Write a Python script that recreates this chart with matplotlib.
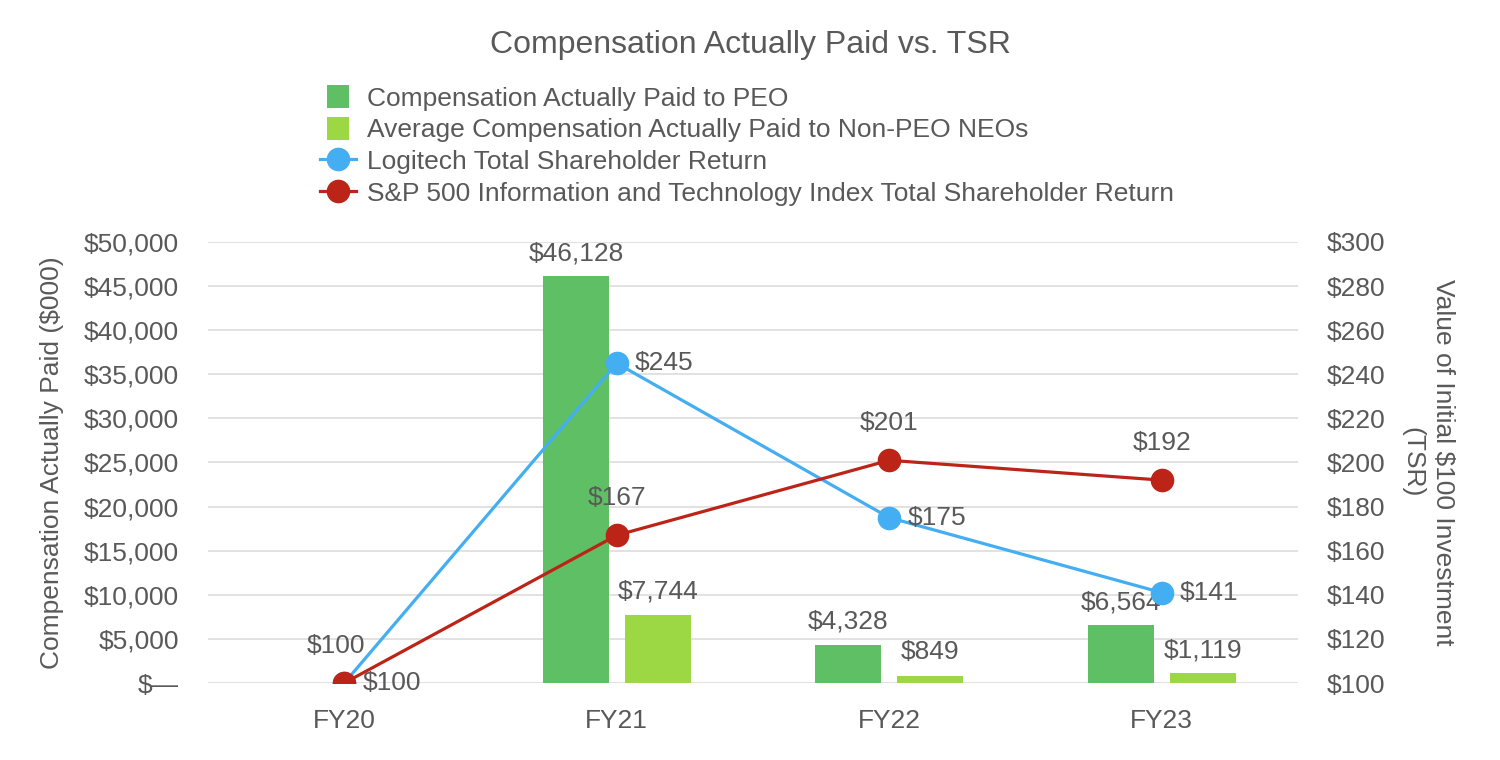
import numpy as np
import matplotlib.pyplot as plt
from matplotlib.patches import Rectangle
from matplotlib.container import BarContainer
from matplotlib.legend_handler import HandlerPatch, update_from_first_child
from matplotlib.ticker import FuncFormatter

# data
years = ['FY20', 'FY21', 'FY22', 'FY23']
cap_peo = [np.nan, 46128, 4328, 6564]
cap_neo = [np.nan, 7744, 849, 1119]
tsr_logi = [100, 245, 175, 141]
tsr_sp = [100, 167, 201, 192]

c_peo = '#5EBF64'
c_neo = '#9CD843'
c_logi = '#44AEF2'
c_sp = '#BD2418'
grey = '#595959'

plt.rcParams['font.family'] = ['Liberation Sans', 'DejaVu Sans']
plt.rcParams['text.color'] = grey
fs = 19

def square_patch(legend, orig_handle, xdescent, ydescent, width, height, fontsize):
	s = height
	return Rectangle((-xdescent + (width - s) / 2, -ydescent), s, s)

fig = plt.figure(figsize=(15, 7.6), dpi=100)
ax = fig.add_axes([0.1387, 0.1013, 0.7266, 0.5803])
ax2 = ax.twinx()

x = np.arange(len(years))
w = 0.242
off = 0.15
ax.bar(x - off, cap_peo, w, color=c_peo, label='Compensation Actually Paid to PEO', zorder=2)
ax.bar(x + off, cap_neo, w, color=c_neo, label='Average Compensation Actually Paid to Non-PEO NEOs', zorder=2)

for xs, vals in [(x - off, cap_peo), (x + off, cap_neo)]:
	for xi, v in zip(xs, vals):
		if np.isnan(v):
			continue
		ax.annotate(f'${v:,.0f}', (xi, v), xytext=(0, 8), textcoords='offset points',
			ha='center', va='bottom', fontsize=fs, color=grey)

ax2.plot(x, tsr_logi, '-o', color=c_logi, lw=2.3, ms=16, label='Logitech Total Shareholder Return', zorder=3)
ax2.plot(x, tsr_sp, '-o', color=c_sp, lw=2.3, ms=16, label='S&P 500 Information and Technology Index Total Shareholder Return', zorder=4)

for xi, v in zip(x, tsr_logi):
	ax2.annotate(f'${v}', (xi, v), xytext=(13, 0), textcoords='offset points',
		ha='left', va='center', fontsize=fs, color=grey)
for i, (xi, v) in enumerate(zip(x, tsr_sp)):
	dx = -6 if i == 0 else 0
	ax2.annotate(f'${v}', (xi, v), xytext=(dx, 18), textcoords='offset points',
		ha='center', va='bottom', fontsize=fs, color=grey)

ax.set_xlim(-0.5, 3.5)
ax.set_ylim(0, 50000)
ax.set_yticks(np.arange(0, 50001, 5000))
ax.yaxis.set_major_formatter(FuncFormatter(lambda v, p: '$—' if v == 0 else f'${v:,.0f}'))
ax2.set_ylim(100, 300)
ax2.set_yticks(np.arange(100, 301, 20))
ax2.yaxis.set_major_formatter(FuncFormatter(lambda v, p: f'${v:.0f}'))
ax.set_xticks(x)
ax.set_xticklabels(years)

ax.grid(axis='y', color='#E2E2E2', lw=1.4, zorder=0)
ax.set_axisbelow(True)
for a in (ax, ax2):
	for s in a.spines.values():
		s.set_visible(False)
ax.tick_params(axis='y', length=0, pad=21, labelsize=fs, labelcolor=grey)
ax.tick_params(axis='x', length=0, pad=19, labelsize=fs, labelcolor=grey)
ax2.tick_params(axis='y', length=0, pad=21, labelsize=fs, labelcolor=grey)

ax.set_ylabel('Compensation Actually Paid ($000)', fontsize=fs, color=grey, labelpad=14)
ax2.set_ylabel('Value of Initial $100 Investment\n(TSR)', fontsize=fs, color=grey,
	rotation=270, labelpad=50, linespacing=1.35)

fig.suptitle('Compensation Actually Paid vs. TSR', fontsize=23, color=grey, y=0.96)

h1, l1 = ax.get_legend_handles_labels()
h2, l2 = ax2.get_legend_handles_labels()
fig.legend(h1 + h2, l1 + l2, loc='upper left', bbox_to_anchor=(0.213, 0.888),
	frameon=False, fontsize=fs, handlelength=1.4, handleheight=0.95, handletextpad=0.4,
	labelspacing=0.24, borderpad=0, borderaxespad=0, labelcolor=grey,
	handler_map={BarContainer: HandlerPatch(patch_func=square_patch, update_func=update_from_first_child)})

plt.savefig('out.png', dpi=100)
